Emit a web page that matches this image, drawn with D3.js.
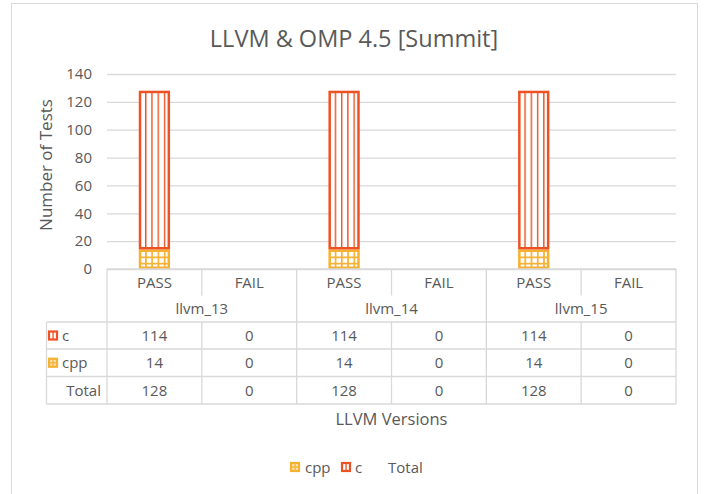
<!doctype html>
<html lang="en">
  <head>
    <meta charset="utf-8">
    <script src="https://cdn.jsdelivr.net/npm/d3@7"></script>
    <style>
      body {margin:0; background:#fff}
      svg {display:block}
      text {font-family:"Open Sans", sans-serif; fill:#595959}
      .tick line {stroke:#d9d9d9}
    </style>
    <title>LLVM & OMP 4.5 [Summit]</title>
  </head>
  <body>
    <script>
      // chart data
      let versions = ["llvm_13", "llvm_14", "llvm_15"];
      let outcomes = ["PASS", "FAIL"];
      let cValues = [114, 0, 114, 0, 114, 0];
      let cppValues = [14, 0, 14, 0, 14, 0];
      let totalValues = [128, 0, 128, 0, 128, 0];
      let yTicks = [0, 20, 40, 60, 80, 100, 120, 140];

      let cColor = "#ee5122";
      let cppColor = "#f7b132";
      let grid = "#d9d9d9";

      let keys = [];
      versions.forEach(v => outcomes.forEach(o => keys.push(v + "|" + o)));
      let rows = keys.map((k, i) => ({key:k, v:k.split("|")[0], o:k.split("|")[1], c:cValues[i], cpp:cppValues[i], total:totalValues[i], i:i}));

      let pLeft = 107, pRight = 676, pTop = 74, pBottom = 269;

      let svg = d3.select("body").append("svg").attr("width", 708).attr("height", 494);

      svg.append("rect")
        .attr("x", 11.5).attr("y", 3.5).attr("width", 686).attr("height", 500)
        .attr("fill", "#fff").attr("stroke", grid);

      let col = d3.scaleBand().domain(keys).range([pLeft, pRight]);
      let x = d3.scaleBand().domain(keys).range([pLeft, pRight]).paddingInner(0.67).paddingOuter(0.335);
      let y = d3.scaleLinear().domain([0, 140]).range([pBottom, pTop]);

      // title
      svg.append("text")
        .attr("x", 354).attr("y", 47)
        .attr("text-anchor", "middle")
        .attr("font-size", "23.5px")
        .text("LLVM & OMP 4.5 [Summit]");

      // gridlines + y labels
      let yAxis = d3.axisLeft(y).tickValues(yTicks).tickSize(-(pRight - pLeft)).tickPadding(15);
      let ya = svg.append("g").attr("transform", "translate(" + pLeft + ",0)").call(yAxis);
      ya.select(".domain").remove();
      ya.selectAll(".tick text").attr("font-size", "15px").attr("fill", "#595959").style("font-family", "'Open Sans', sans-serif");
      ya.selectAll(".tick line").attr("stroke", grid).attr("stroke-width", 1.3);

      svg.append("text")
        .attr("transform", "translate(52,165) rotate(-90)")
        .attr("text-anchor", "middle")
        .attr("font-size", "17px")
        .text("Number of Tests");

      // patterns, one per bar so stripes line up with each bar
      let defs = svg.append("defs");
      let step = x.bandwidth() / 5;
      rows.forEach(d => {
        let pc = defs.append("pattern")
          .attr("id", "pc" + d.i)
          .attr("patternUnits", "userSpaceOnUse")
          .attr("x", x(d.key)).attr("y", 0)
          .attr("width", step).attr("height", 10);
        pc.append("rect").attr("width", step).attr("height", 10).attr("fill", "#fff");
        pc.append("rect").attr("width", 1.4).attr("height", 10).attr("fill", cColor);

        let pp = defs.append("pattern")
          .attr("id", "pp" + d.i)
          .attr("patternUnits", "userSpaceOnUse")
          .attr("x", x(d.key)).attr("y", pBottom)
          .attr("width", step).attr("height", step);
        pp.append("rect").attr("width", step).attr("height", step).attr("fill", "#fff");
        pp.append("rect").attr("width", 1.7).attr("height", step).attr("fill", cppColor);
        pp.append("rect").attr("width", step).attr("height", 1.7).attr("fill", cppColor);
      });

      // bars
      let bars = svg.append("g");
      bars.selectAll(".cpp").data(rows.filter(d => d.cpp > 0)).enter().append("rect")
        .attr("class", "cpp")
        .attr("x", d => x(d.key) + 1.25)
        .attr("y", d => y(d.cpp) + 1.25)
        .attr("width", x.bandwidth() - 2.5)
        .attr("height", d => y(0) - y(d.cpp) - 2.5)
        .attr("fill", d => "url(#pp" + d.i + ")")
        .attr("stroke", cppColor).attr("stroke-width", 2.5);
      bars.selectAll(".c").data(rows.filter(d => d.c > 0)).enter().append("rect")
        .attr("class", "c")
        .attr("x", d => x(d.key) + 1.25)
        .attr("y", d => y(d.cpp + d.c) + 1.25)
        .attr("width", x.bandwidth() - 2.5)
        .attr("height", d => y(d.cpp) - y(d.cpp + d.c) - 2.5)
        .attr("fill", d => "url(#pc" + d.i + ")")
        .attr("stroke", cColor).attr("stroke-width", 2.5);

      // data table
      let rowY = [269, 295.5, 322, 349, 376.5, 404];
      let tbl = svg.append("g").attr("stroke", grid).attr("stroke-width", 1.3);
      tbl.append("line").attr("x1", pLeft).attr("x2", pRight).attr("y1", rowY[0]).attr("y2", rowY[0]);
      [2, 3, 4, 5].forEach(r => {
        tbl.append("line").attr("x1", 46.5).attr("x2", pRight).attr("y1", rowY[r]).attr("y2", rowY[r]);
      });
      let vx = versions.map(v => col(v + "|PASS")).concat([pRight]);
      vx.forEach(px => {
        tbl.append("line").attr("x1", px).attr("x2", px).attr("y1", rowY[0]).attr("y2", rowY[5]);
      });
      // PASS|FAIL separators skip the version row
      versions.forEach(v => {
        let px = col(v + "|FAIL");
        tbl.append("line").attr("x1", px).attr("x2", px).attr("y1", rowY[0]).attr("y2", rowY[1]);
        tbl.append("line").attr("x1", px).attr("x2", px).attr("y1", rowY[2]).attr("y2", rowY[5]);
      });
      tbl.append("line").attr("x1", 46.5).attr("x2", 46.5).attr("y1", rowY[2]).attr("y2", rowY[5]);

      let cx = d => col(d.key) + col.bandwidth() / 2;
      let txt = svg.append("g").attr("font-size", "15px").attr("text-anchor", "middle");
      txt.selectAll(".oc").data(rows).enter().append("text")
        .attr("x", cx).attr("y", (rowY[0] + rowY[1]) / 2 + 5.5).text(d => d.o);
      txt.selectAll(".vn").data(versions).enter().append("text")
        .attr("x", v => col(v + "|PASS") + col.bandwidth())
        .attr("y", (rowY[1] + rowY[2]) / 2 + 5.5).text(v => v);
      txt.selectAll(".cv").data(rows).enter().append("text")
        .attr("x", cx).attr("y", (rowY[2] + rowY[3]) / 2 + 5.5).text(d => d.c);
      txt.selectAll(".ppv").data(rows).enter().append("text")
        .attr("x", cx).attr("y", (rowY[3] + rowY[4]) / 2 + 5.5).text(d => d.cpp);
      txt.selectAll(".tv").data(rows).enter().append("text")
        .attr("x", cx).attr("y", (rowY[4] + rowY[5]) / 2 + 5.5).text(d => d.total);

      function key(g, px, py, color, id) {
        g.append("rect").attr("x", px + 1).attr("y", py + 1).attr("width", 8).attr("height", 8)
          .attr("fill", "#fff").attr("stroke", color).attr("stroke-width", 2.2);
        if (id === "c") {
          g.append("rect").attr("x", px + 4.4).attr("y", py + 1).attr("width", 1.3).attr("height", 8).attr("fill", color);
        } else {
          g.append("rect").attr("x", px + 1).attr("y", py + 1).attr("width", 8).attr("height", 8).attr("fill", color).attr("opacity", 0.35);
          g.append("rect").attr("x", px + 4.4).attr("y", py + 1).attr("width", 1.3).attr("height", 8).attr("fill", color);
          g.append("rect").attr("x", px + 1).attr("y", py + 4.4).attr("width", 8).attr("height", 1.3).attr("fill", color);
        }
      }

      let rl = svg.append("g");
      key(rl, 48, (rowY[2] + rowY[3]) / 2 - 5, cColor, "c");
      key(rl, 48, (rowY[3] + rowY[4]) / 2 - 5, cppColor, "cpp");
      rl.append("text").attr("x", 62).attr("y", (rowY[2] + rowY[3]) / 2 + 5.5).attr("font-size", "15px").text("c");
      rl.append("text").attr("x", 62).attr("y", (rowY[3] + rowY[4]) / 2 + 5.5).attr("font-size", "15px").text("cpp");
      rl.append("text").attr("x", 101).attr("y", (rowY[4] + rowY[5]) / 2 + 5.5).attr("font-size", "15px").attr("text-anchor", "end").text("Total");

      svg.append("text")
        .attr("x", (pLeft + pRight) / 2).attr("y", 425)
        .attr("text-anchor", "middle")
        .attr("font-size", "16.5px")
        .text("LLVM Versions");

      // bottom legend
      let lg = svg.append("g");
      key(lg, 290, 462, cppColor, "cpp");
      lg.append("text").attr("x", 305).attr("y", 473).attr("font-size", "15px").text("cpp");
      key(lg, 341, 462, cColor, "c");
      lg.append("text").attr("x", 355).attr("y", 473).attr("font-size", "15px").text("c");
      lg.append("text").attr("x", 388).attr("y", 473).attr("font-size", "15px").text("Total");
    </script>
  </body>
</html>
